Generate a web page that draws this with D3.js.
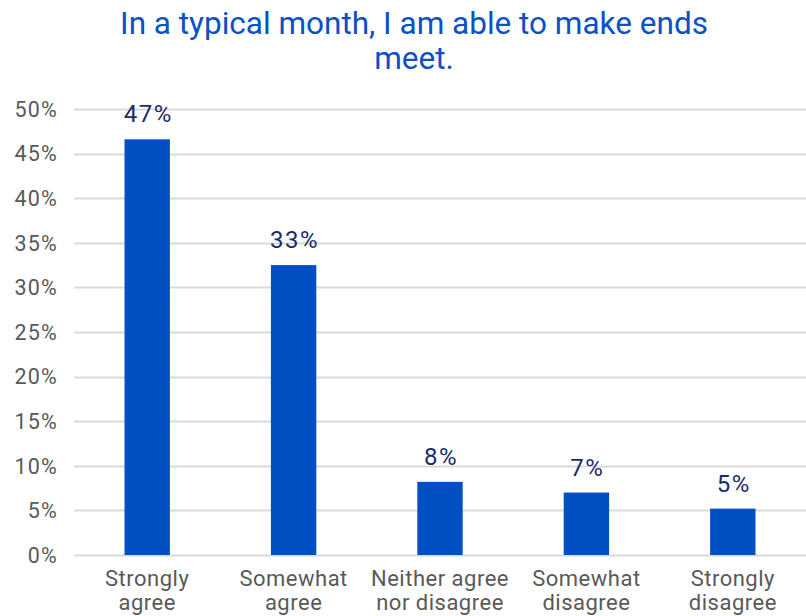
<!DOCTYPE html>
<html>
<head>
<meta charset="utf-8">
<script src="https://cdn.jsdelivr.net/npm/d3@7"></script>
<style>
  html, body { margin: 0; padding: 0; background: #fff; }
  svg { display: block; }
</style>
</head>
<body>
<svg id="chart" width="806" height="616"></svg>
<script>
// Survey responses: "In a typical month, I am able to make ends meet."
const categories = [
  ["Strongly", "agree"],
  ["Somewhat", "agree"],
  ["Neither agree", "nor disagree"],
  ["Somewhat", "disagree"],
  ["Strongly", "disagree"]
];
const shares = [46.6, 32.5, 8.2, 7.0, 5.2];
const yTicks = [0, 5, 10, 15, 20, 25, 30, 35, 40, 45, 50];
const titleLines = ["In a typical month, I am able to make ends", "meet."];

const svg = d3.select("#chart");
const W = 806, H = 616;
const margin = { top: 109, right: 0, bottom: 61, left: 74 };
const font = "Roboto, 'Noto Sans', sans-serif";

const keys = categories.map((c, i) => i);
const x = d3.scaleBand()
  .domain(keys)
  .range([margin.left, W - margin.right])
  .paddingInner(0.69)
  .paddingOuter(0.345);

const y = d3.scaleLinear()
  .domain([0, 50])
  .range([H - margin.bottom, margin.top]);

// Title
svg.append("g")
  .selectAll("text")
  .data(titleLines)
  .join("text")
  .attr("x", 414)
  .attr("y", (d, i) => 34 + i * 35)
  .attr("text-anchor", "middle")
  .attr("font-family", font)
  .attr("font-size", 31.5)
  .attr("fill", "#0a50c8")
  .text(d => d);

// Gridlines
svg.append("g")
  .selectAll("line")
  .data(yTicks)
  .join("line")
  .attr("x1", margin.left)
  .attr("x2", W - margin.right)
  .attr("y1", d => Math.round(y(d)) + 0.5)
  .attr("y2", d => Math.round(y(d)) + 0.5)
  .attr("stroke", "#d9d9d9")
  .attr("stroke-width", 2);

// Y axis labels
const yAxis = d3.axisLeft(y)
  .tickValues(yTicks)
  .tickFormat(d => d + "%")
  .tickSize(0)
  .tickPadding(0);
const yg = svg.append("g")
  .attr("transform", `translate(58,0)`)
  .call(yAxis);
yg.select(".domain").remove();
yg.selectAll("text")
  .attr("font-family", font)
  .attr("font-size", 21.5)
  .attr("letter-spacing", 1.2)
  .attr("fill", "#595959")
  .attr("dy", "0.34em");

// Bars
svg.append("g")
  .selectAll("rect")
  .data(shares)
  .join("rect")
  .attr("x", (d, i) => x(i))
  .attr("width", x.bandwidth())
  .attr("y", d => y(d))
  .attr("height", d => y(0) - y(d))
  .attr("fill", "#0050c3");

// Value labels
svg.append("g")
  .selectAll("text")
  .data(shares)
  .join("text")
  .attr("x", (d, i) => x(i) + x.bandwidth() / 2 + 1)
  .attr("y", d => y(d) - 17)
  .attr("text-anchor", "middle")
  .attr("font-family", font)
  .attr("font-size", 24)
  .attr("letter-spacing", 1.5)
  .attr("fill", "#1b2a6b")
  .text(d => Math.round(d) + "%");

// Category labels
const xAxis = d3.axisBottom(x).tickSize(0).tickFormat("");
const xg = svg.append("g")
  .attr("transform", `translate(0,${H - margin.bottom})`)
  .call(xAxis);
xg.select(".domain").remove();
xg.selectAll(".tick").each(function(d) {
  const t = d3.select(this).append("text")
    .attr("text-anchor", "middle")
    .attr("font-family", font)
    .attr("font-size", 22)
    .attr("letter-spacing", 0.5)
    .attr("fill", "#595959");
  categories[d].forEach((line, j) => {
    t.append("tspan").attr("x", 0).attr("y", 31 + j * 24).text(line);
  });
});
</script>
</body>
</html>
